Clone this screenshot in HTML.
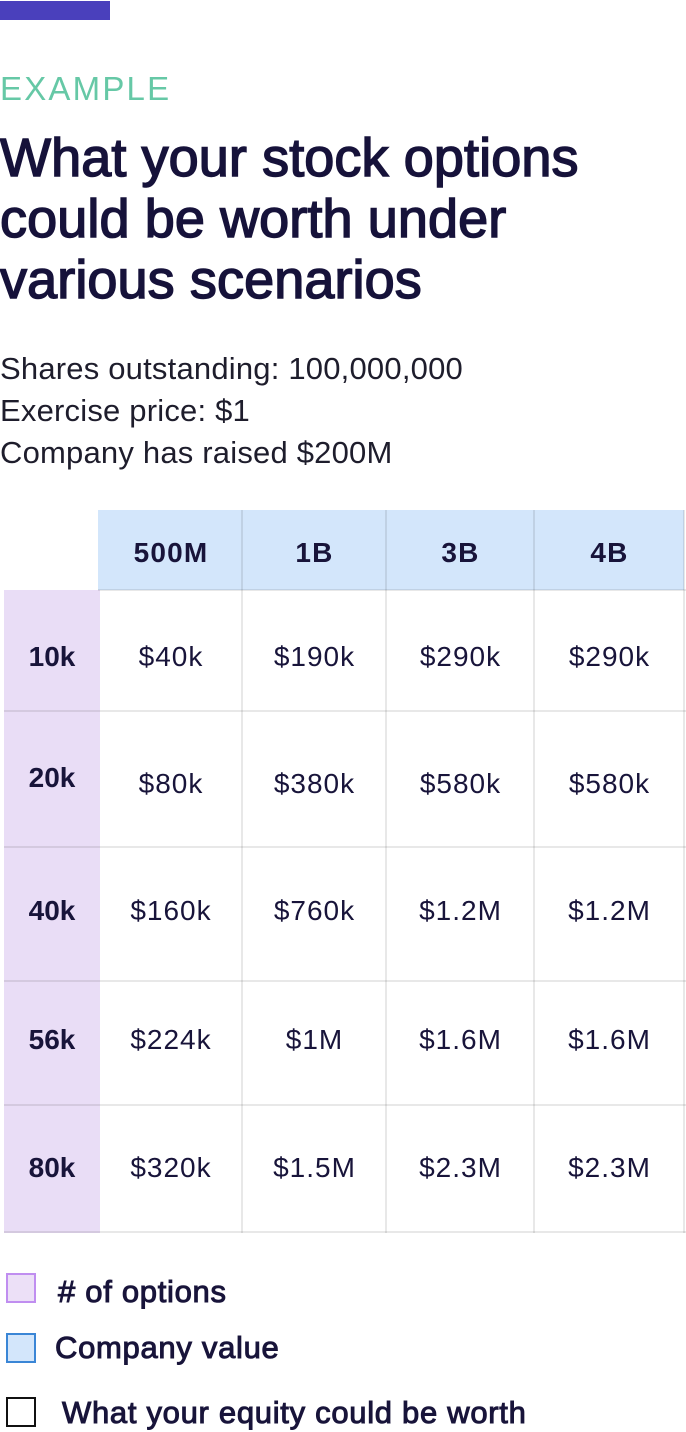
<!DOCTYPE html>
<html>
<head>
<meta charset="utf-8">
<style>
  html, body { margin:0; padding:0; }
  body { width:686px; height:1432px; position:relative; background:#ffffff; overflow:hidden;
         font-family:"Liberation Sans", Arial, sans-serif; color:#18143a; }
  .abs { position:absolute; }
  .bar { left:0; top:1px; width:110px; height:19px; background:#4a40bc; }
  .eyebrow { left:0; top:72px; font-size:33px; line-height:33px; letter-spacing:2.2px; color:#66c8a6; white-space:nowrap; }
  .title { left:0; top:128px; font-size:54px; line-height:61px; letter-spacing:0.1px; color:#16123a; -webkit-text-stroke:1.5px #16123a; white-space:nowrap; }
  .sub { left:0; top:348px; font-size:31px; line-height:42px; letter-spacing:0.2px; color:#1e1d2c; white-space:nowrap; }
  .hdr { left:98px; top:510px; width:586px; height:80px; background:#d3e6fb; }
  .pur { left:4px; top:590px; width:96px; height:643px; background:#e9ddf6; }
  .hl { height:2px; background:rgba(0,0,0,0.09); }
  .vl { width:2px; background:rgba(0,0,0,0.09); }
  .t { font-size:28px; line-height:28px; text-align:center; white-space:nowrap; color:#18143a; }
  .lab { font-weight:bold; }
  .hd { font-weight:bold; letter-spacing:1.2px; }
  .val { letter-spacing:1px; }
  .sq { width:26px; height:26px; border:2px solid; }
  .leg { font-size:31px; line-height:31px; letter-spacing:0.7px; color:#18143a; -webkit-text-stroke:1px #18143a; white-space:nowrap; }
</style>
</head>
<body>
  <div class="abs bar"></div>
  <div class="abs eyebrow">EXAMPLE</div>
  <div class="abs title">What your stock options<br>could be worth under<br>various scenarios</div>
  <div class="abs sub">Shares outstanding: 100,000,000<br>Exercise price: $1<br>Company has raised $200M</div>

  <!-- table backgrounds -->
  <div class="abs hdr"></div>
  <div class="abs pur"></div>

  <!-- horizontal lines -->
  <div class="abs hl" style="left:98px; top:589px; width:588px;"></div>
  <div class="abs hl" style="left:4px; top:710px; width:682px;"></div>
  <div class="abs hl" style="left:4px; top:846px; width:682px;"></div>
  <div class="abs hl" style="left:4px; top:980px; width:682px;"></div>
  <div class="abs hl" style="left:4px; top:1104px; width:682px;"></div>
  <div class="abs hl" style="left:4px; top:1231px; width:682px;"></div>

  <!-- vertical lines -->
  <div class="abs vl" style="left:241px; top:510px; height:723px;"></div>
  <div class="abs vl" style="left:385px; top:510px; height:723px;"></div>
  <div class="abs vl" style="left:533px; top:510px; height:723px;"></div>
  <div class="abs vl" style="left:683px; top:510px; height:723px;"></div>

  <!-- header -->
  <div class="abs t hd" style="left:100px; width:142px; top:539px;">500M</div>
  <div class="abs t hd" style="left:243px; width:143px; top:539px;">1B</div>
  <div class="abs t hd" style="left:387px; width:147px; top:539px;">3B</div>
  <div class="abs t hd" style="left:535px; width:149px; top:539px;">4B</div>

  <!-- row labels -->
  <div class="abs t lab" style="left:4px; width:96px; top:643px;">10k</div>
  <div class="abs t lab" style="left:4px; width:96px; top:764px;">20k</div>
  <div class="abs t lab" style="left:4px; width:96px; top:897px;">40k</div>
  <div class="abs t lab" style="left:4px; width:96px; top:1026px;">56k</div>
  <div class="abs t lab" style="left:4px; width:96px; top:1154px;">80k</div>

  <!-- row 1 -->
  <div class="abs t val" style="left:100px; width:142px; top:643px;">$40k</div>
  <div class="abs t val" style="left:243px; width:143px; top:643px;">$190k</div>
  <div class="abs t val" style="left:387px; width:147px; top:643px;">$290k</div>
  <div class="abs t val" style="left:535px; width:149px; top:643px;">$290k</div>
  <!-- row 2 -->
  <div class="abs t val" style="left:100px; width:142px; top:770px;">$80k</div>
  <div class="abs t val" style="left:243px; width:143px; top:770px;">$380k</div>
  <div class="abs t val" style="left:387px; width:147px; top:770px;">$580k</div>
  <div class="abs t val" style="left:535px; width:149px; top:770px;">$580k</div>
  <!-- row 3 -->
  <div class="abs t val" style="left:100px; width:142px; top:897px;">$160k</div>
  <div class="abs t val" style="left:243px; width:143px; top:897px;">$760k</div>
  <div class="abs t val" style="left:387px; width:147px; top:897px;">$1.2M</div>
  <div class="abs t val" style="left:535px; width:149px; top:897px;">$1.2M</div>
  <!-- row 4 -->
  <div class="abs t val" style="left:100px; width:142px; top:1026px;">$224k</div>
  <div class="abs t val" style="left:243px; width:143px; top:1026px;">$1M</div>
  <div class="abs t val" style="left:387px; width:147px; top:1026px;">$1.6M</div>
  <div class="abs t val" style="left:535px; width:149px; top:1026px;">$1.6M</div>
  <!-- row 5 -->
  <div class="abs t val" style="left:100px; width:142px; top:1154px;">$320k</div>
  <div class="abs t val" style="left:243px; width:143px; top:1154px;">$1.5M</div>
  <div class="abs t val" style="left:387px; width:147px; top:1154px;">$2.3M</div>
  <div class="abs t val" style="left:535px; width:149px; top:1154px;">$2.3M</div>

  <!-- legend -->
  <div class="abs sq" style="left:6px; top:1273px; background:#ece0f7; border-color:#c08ef0;"></div>
  <div class="abs leg" style="left:58px; top:1276px;"># of options</div>
  <div class="abs sq" style="left:6px; top:1333px; background:#d3e6fb; border-color:#3a86d6;"></div>
  <div class="abs leg" style="left:55px; top:1332px;">Company value</div>
  <div class="abs sq" style="left:6px; top:1397px; background:#ffffff; border-color:#111111;"></div>
  <div class="abs leg" style="left:62px; top:1397px;">What your equity could be worth</div>
</body>
</html>
